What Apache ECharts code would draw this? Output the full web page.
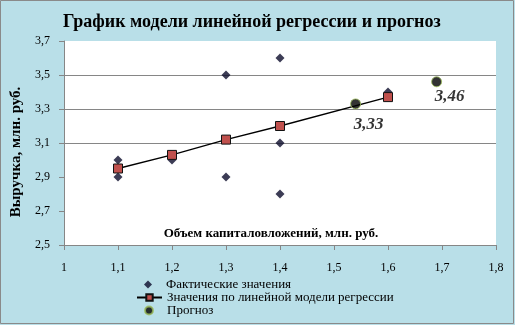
<!DOCTYPE html>
<html>
<head>
<meta charset="utf-8">
<script src="https://cdn.jsdelivr.net/npm/echarts@6/dist/echarts.min.js"></script>
<style>
  html, body { margin: 0; padding: 0; background: #fff; }
  #chart { width: 515px; height: 325px; }
</style>
</head>
<body>
<div id="chart"></div>
<script>
// Фактические значения: объем капиталовложений (x) и выручка (y)
const actualX = [1.1, 1.1, 1.2, 1.3, 1.3, 1.4, 1.4, 1.4, 1.4, 1.6];
const actualY = [3.0, 2.9, 3.0, 3.5, 2.9, 3.6, 3.2, 3.1, 2.8, 3.4];

// Значения по линейной модели регрессии
const modelX = [1.1, 1.2, 1.3, 1.4, 1.6];
const modelY = [2.95, 3.03, 3.12, 3.2, 3.37];

// Прогноз
const forecastX = [1.54, 1.69];
const forecastY = [3.33, 3.46];

const seriesNames = ['Фактические значения', 'Значения по линейной модели регрессии', 'Прогноз'];
const titleText = 'График модели линейной регрессии и прогноз';
const xAxisTitle = 'Объем капиталовложений, млн. руб.';
const yAxisTitle = 'Выручка, млн. руб.';

const serif = 'Liberation Serif';
const comma = v => String(+v.toFixed(2)).replace('.', ',');
const pairs = (xs, ys) => xs.map((x, i) => [x, ys[i]]);

// One legend block per row so every icon sits in the same column
const legendRow = (name, top, left, icon, textPad) => ({
  orient: 'vertical',
  left: left, top: top,
  padding: 0,
  itemWidth: 25, itemHeight: 8,
  textStyle: { fontFamily: serif, fontSize: 13, color: '#000', padding: [0, 0, 0, textPad] },
  data: [icon ? { name: name, icon: icon } : name]
});

const chart = echarts.init(document.getElementById('chart'), null, { renderer: 'canvas' });

chart.setOption({
  backgroundColor: '#B9DFE8',
  animation: false,
  title: {
    text: titleText,
    left: 58,
    top: 8,
    textStyle: { fontFamily: serif, fontWeight: 'bold', fontSize: 18, color: '#000' }
  },
  graphic: [{
    type: 'rect',
    shape: { x: 0.5, y: 0.5, width: 513, height: 323 },
    style: { fill: 'none', stroke: '#8a8a8a', lineWidth: 1 },
    silent: true
  }],
  grid: {
    left: 64, right: 19, top: 41, bottom: 80,
    show: true, backgroundColor: '#fff', borderWidth: 0
  },
  legend: [
    legendRow(seriesNames[0], 278, 144, 'path://M0,-1L1,0L0,1L-1,0Z', 0.5),
    legendRow(seriesNames[1], 291, 136, null, 0),
    legendRow(seriesNames[2], 304, 144, 'circle', 0.5)
  ],
  xAxis: {
    type: 'value',
    min: 1, max: 1.8, interval: 0.1,
    name: xAxisTitle,
    nameLocation: 'middle',
    nameGap: -18,
    nameTextStyle: { fontFamily: serif, fontWeight: 'bold', fontSize: 13, color: '#000', padding: [0, 18, 0, 0] },
    axisLine: { show: true, lineStyle: { color: '#868686' } },
    axisTick: { show: true, length: 5, lineStyle: { color: '#868686' } },
    splitLine: { show: false },
    axisLabel: { margin: 17, fontFamily: serif, fontSize: 12, color: '#000', formatter: v => comma(v) }
  },
  yAxis: {
    type: 'value',
    min: 2.5, max: 3.7, interval: 0.2,
    name: yAxisTitle,
    nameLocation: 'middle',
    nameRotate: 90,
    nameGap: 39,
    nameTextStyle: { fontFamily: serif, fontWeight: 'bold', fontSize: 15, color: '#000', padding: [0, 18, 0, 0] },
    axisLine: { show: true, lineStyle: { color: '#868686' } },
    axisTick: { show: true, length: 5, lineStyle: { color: '#868686' } },
    splitLine: {
      show: true,
      lineStyle: {
        color: ['rgba(0,0,0,0)', 'rgba(0,0,0,0)', 'rgba(0,0,0,0)', '#868686', '#868686', '#868686', 'rgba(0,0,0,0)']
      }
    },
    axisLabel: { margin: 14, fontFamily: serif, fontSize: 12, color: '#000', formatter: v => comma(v) }
  },
  series: [
    {
      name: seriesNames[0],
      type: 'scatter',
      symbol: 'diamond',
      symbolSize: 9,
      itemStyle: { color: '#0b0b2a' },
      data: pairs(actualX, actualY),
      z: 2
    },
    {
      name: seriesNames[1],
      type: 'line',
      symbol: 'rect',
      symbolSize: 9,
      showAllSymbol: true,
      itemStyle: { color: '#C0504D', borderColor: '#111', borderWidth: 1 },
      lineStyle: { color: '#000', width: 1.3 },
      data: pairs(modelX, modelY),
      z: 3
    },
    {
      name: seriesNames[2],
      type: 'scatter',
      symbol: 'circle',
      symbolSize: 10,
      itemStyle: { color: '#000', borderColor: '#9BBB59', borderWidth: 1 },
      label: {
        show: true,
        position: 'bottom',
        distance: 6,
        fontFamily: serif,
        fontStyle: 'italic',
        fontWeight: 'bold',
        fontSize: 17,
        color: '#000',
        formatter: p => comma(p.value[1])
      },
      data: pairs(forecastX, forecastY).map((d, i) => ({
        value: d,
        label: { offset: i === 0 ? [13, 1] : [13, -5] }
      })),
      z: 4
    }
  ]
});
</script>
</body>
</html>
